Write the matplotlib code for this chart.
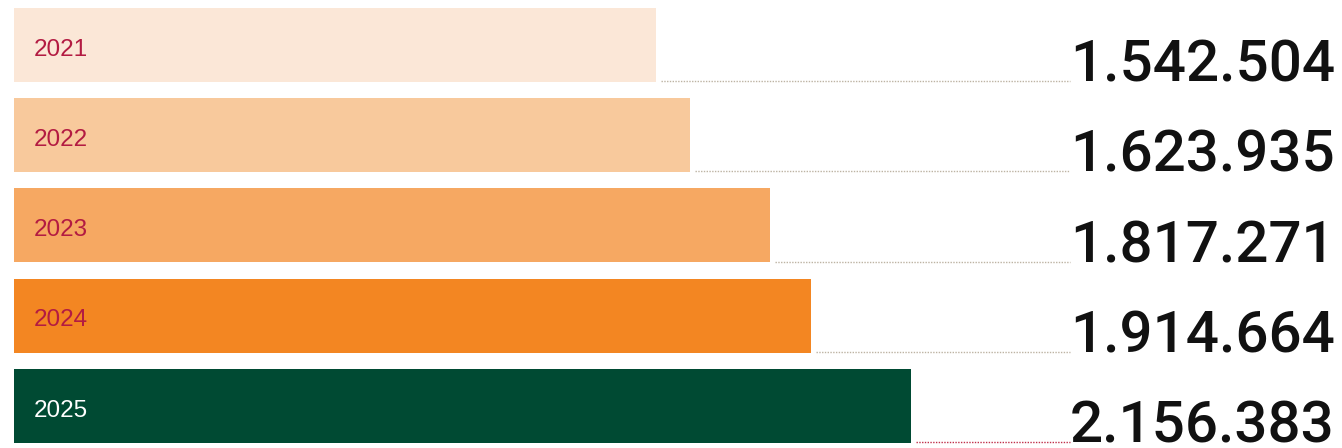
import matplotlib.pyplot as plt
from matplotlib.transforms import blended_transform_factory

# Datos
years = ["2021", "2022", "2023", "2024", "2025"]
values = [1542504, 1623935, 1817271, 1914664, 2156383]
labels = ["1.542.504", "1.623.935", "1.817.271", "1.914.664", "2.156.383"]

bar_colors = ["#FBE7D7", "#F8C99C", "#F6A862", "#F38622", "#004A33"]
year_colors = ["#B31B42", "#B31B42", "#B31B42", "#B31B42", "#FFFFFF"]
dot_colors = ["#BDB3A3", "#BDB3A3", "#BDB3A3", "#BDB3A3", "#C0304A"]

W, H = 1342, 448
fig = plt.figure(figsize=(W / 100, H / 100), dpi=100)
ax = fig.add_axes([14 / W, 0, 1 - 14 / W, 1])

px = 4.16e-4  # pixels per unit
ax.set_xlim(0, (W - 14) / px)
ax.set_ylim((H - 45) / 90.25, -45 / 90.25)
ax.axis("off")

bar_h = 74 / 90.25
ypos = list(range(len(years)))
ax.barh(ypos, values, height=bar_h, color=bar_colors, zorder=2)

trans = blended_transform_factory(fig.transFigure, ax.transData)
line_end = (1070 - 14) / px
for i, (y, v) in enumerate(zip(ypos, values)):
    bottom = y + bar_h / 2 - 0.01
    ax.plot([v + 5 / px, line_end], [bottom, bottom], color=dot_colors[i],
            lw=1.0, ls=(0, (1, 1)), zorder=1)
    # etiqueta del año dentro de la barra
    ax.text(20 / px, y + 0.05, years[i], color=year_colors[i], fontsize=17.5,
            family="Liberation Sans", va="center", ha="left", zorder=3)
    # valor a la derecha
    ax.text(1335 / W, bottom + 0.005, labels[i], transform=trans,
            fontsize=42, family="Roboto", weight="medium", color="#111111",
            ha="right", va="baseline")

fig.savefig("out.png", dpi=100)
